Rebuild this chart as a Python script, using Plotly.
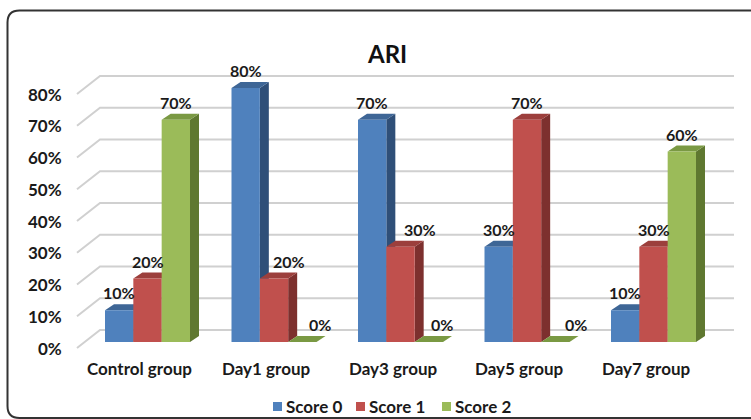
import plotly.graph_objects as go

# ---- data -------------------------------------------------------------
groups = ["Control group", "Day1 group", "Day3 group", "Day5 group", "Day7 group"]
series_names = ["Score 0", "Score 1", "Score 2"]
score0 = [10, 80, 70, 30, 10]
score1 = [20, 20, 30, 70, 30]
score2 = [70, 0, 0, 0, 60]
tick_values = [0, 10, 20, 30, 40, 50, 60, 70, 80]
tick_labels = ["0%", "10%", "20%", "30%", "40%", "50%", "60%", "70%", "80%"]
title_text = "ARI"

# ---- styling ------------------------------------------------------------
FONT = "Lato, 'Open Sans', sans-serif"
TXT = "#1a1a1a"
front_colors = ["#4F81BD", "#C0504D", "#9BBB59"]
top_colors = ["#3E6696", "#9C3F3C", "#7A9943"]
side_colors = ["#2F4F78", "#7D302E", "#5F7830"]
grid_color = "#D0D0D0"

# label nudges (px) for labels pushed aside by taller neighbours
label_nudge = [
    [0, 0, 0, 0, 0],
    [0, 15, 19, 0, 0],
    [0, 18, 13, 21, 0],
]

W, H = 751, 419
# projection scale: pixel position of group 0 centre / zero line, px per unit
X0_PX, UNIT_PX = 147.5, 126.5
Y0_PX, PCT_PX = 342.0, 3.175


def dx(p):
    return p / UNIT_PX


def dy(p):
    return p / PCT_PX


bar_w = dx(85 / 3)
depth_x, depth_y = dx(9), dy(6)          # bar depth
back_x, back_y = dx(15), dy(12)          # back wall relative to bar plane
front_x, front_y = dx(-8), dy(-6)        # front edge relative to bar plane
wall_left, wall_right = dx(85 - X0_PX), dx(719 - X0_PX)

fig = go.Figure()

# back wall gridlines and left-wall diagonals
gx, gy = [], []
for v in tick_values:
    gx += [wall_left + front_x, wall_left + back_x, wall_right + back_x, None]
    gy += [v + front_y, v + back_y, v + back_y, None]
fig.add_trace(go.Scatter(x=gx, y=gy, mode="lines",
                         line=dict(color=grid_color, width=2),
                         hoverinfo="skip", showlegend=False))

all_series = [score0, score1, score2]
for k, vals in enumerate(all_series):
    sx, sy, tx, ty, fx, fy = [], [], [], [], [], []
    for i, v in enumerate(vals):
        x0 = i + (k - 1.5) * bar_w
        x1 = x0 + bar_w
        if v > 0:
            sx += [x1, x1 + depth_x, x1 + depth_x, x1, x1, None]
            sy += [0, depth_y, v + depth_y, v, 0, None]
            fx += [x0, x1, x1, x0, x0, None]
            fy += [0, 0, v, v, 0, None]
        tx += [x0, x1, x1 + depth_x, x0 + depth_x, x0, None]
        ty += [v, v, v + depth_y, v + depth_y, v, None]
    for px_, py_, col in ((sx, sy, side_colors[k]), (tx, ty, top_colors[k]),
                          (fx, fy, front_colors[k])):
        if px_:
            fig.add_trace(go.Scatter(x=px_, y=py_, mode="lines", fill="toself",
                                     fillcolor=col, line=dict(width=0, color=col),
                                     hoverinfo="skip", showlegend=False))
    # value labels
    for i, v in enumerate(vals):
        x_c = i + (k - 1) * bar_w
        fig.add_annotation(x=x_c, y=v + depth_y, text=f"<b>{v}%</b>",
                           showarrow=False, yanchor="bottom", yshift=0,
                           xshift=label_nudge[k][i],
                           font=dict(family=FONT, size=16, color=TXT))

# category labels along the front edge
for i, g in enumerate(groups):
    fig.add_annotation(x=i + front_x, y=front_y, text=f"<b>{g}</b>",
                       showarrow=False, yanchor="middle", yshift=-20,
                       font=dict(family=FONT, size=17, color=TXT))

# value axis labels
for v, t in zip(tick_values, tick_labels):
    fig.add_annotation(x=wall_left + front_x, y=v + front_y, text=f"<b>{t}</b>",
                       showarrow=False, xanchor="right", xshift=-13,
                       yanchor="middle",
                       font=dict(family=FONT, size=17, color=TXT))


def px(x):
    return x / W


def py(y):
    return 1 - y / H


# legend built from swatches and text
legend_x = [273, 356, 442]
for name, col, lx in zip(series_names, front_colors, legend_x):
    fig.add_shape(type="rect", xref="paper", yref="paper",
                  x0=px(lx), x1=px(lx + 9), y0=py(411), y1=py(402),
                  fillcolor=col, line=dict(width=0))
    fig.add_annotation(xref="paper", yref="paper", x=px(lx + 11), y=py(406.5),
                       text=f"<b>{name}</b>", showarrow=False,
                       xanchor="left", yanchor="middle",
                       font=dict(family=FONT, size=17, color=TXT))

# rounded chart frame
L, T, R, B, r = 7.5, 10.5, 753, 418, 12
frame = (f"M {px(R)},{py(T)} L {px(L + r)},{py(T)} "
         f"Q {px(L)},{py(T)} {px(L)},{py(T + r)} "
         f"L {px(L)},{py(B - r)} Q {px(L)},{py(B)} {px(L + r)},{py(B)} "
         f"L {px(R)},{py(B)}")
fig.add_shape(type="path", xref="paper", yref="paper", path=frame,
              line=dict(color="#333333", width=2))

fig.add_annotation(xref="paper", yref="paper", x=px(387), y=py(37),
                   text=f"<b>{title_text}</b>", showarrow=False,
                   font=dict(family=FONT, size=24, color="#111111"))

fig.update_layout(
    width=W, height=H,
    margin=dict(l=0, r=0, t=0, b=0),
    paper_bgcolor="white", plot_bgcolor="white",
    showlegend=False,
    xaxis=dict(range=[dx(-X0_PX), dx(W - X0_PX)], visible=False, fixedrange=True),
    yaxis=dict(range=[dy(Y0_PX - H), dy(Y0_PX)], visible=False, fixedrange=True),
)

fig.write_html("out.html")
